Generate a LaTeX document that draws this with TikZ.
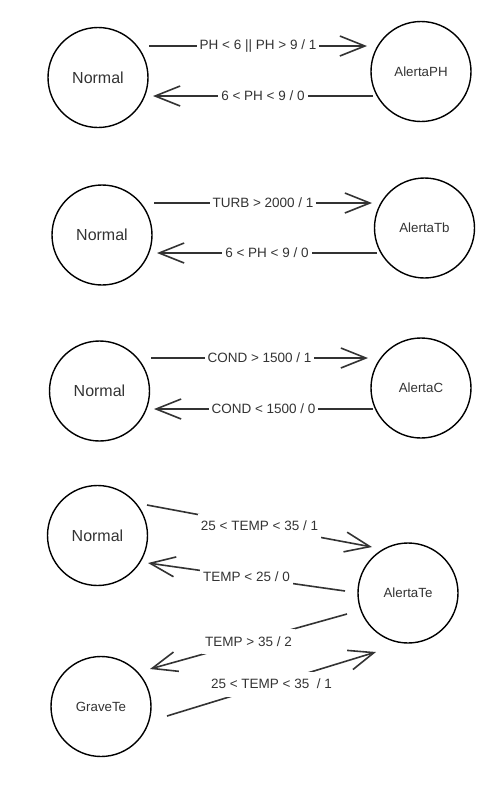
\documentclass[tikz,border=0pt]{standalone}
\usepackage{fontspec}
\setmainfont{Liberation Sans}
\usetikzlibrary{arrows.meta,calc}
\begin{document}
\begin{tikzpicture}[x=1pt,y=-1pt,
  state/.style={circle,draw=black,line width=1.4pt,minimum size=100pt,inner sep=0pt,text=black!80,font=\fontsize{13.3}{15}\selectfont},
  bigtxt/.style={font=\fontsize{16}{19}\selectfont},
  edge/.style={draw=black!80,line width=1.6pt,-{Straight Barb[length=25pt,width=20pt,line width=1.6pt]}},
  lbl/.style={fill=white,text=black!80,font=\fontsize{13.5}{15}\selectfont,inner xsep=3pt,inner ysep=0pt,minimum height=25pt,midway}]
\useasboundingbox (0,0) rectangle (501,785);
% row 1
\node[state,bigtxt] (N1) at (98,77.5) {Normal};
\node[state] (A1) at (421,71.5) {AlertaPH};
\draw[edge] ($(N1)+(51,-31.5)$) -- node[lbl]{PH < 6 || PH > 9 / 1} ($(A1)+(-54,-25.5)$);
\draw[edge] ($(A1)+(-48,24.5)$) -- node[lbl]{6 < PH < 9 / 0} ($(N1)+(55,18.5)$);
% row 2
\node[state,bigtxt] (N2) at (102,235) {Normal};
\node[state] (A2) at (424.5,228) {AlertaTb};
\draw[edge] ($(N2)+(52,-32)$) -- node[lbl]{TURB > 2000 / 1} ($(A2)+(-52.5,-25)$);
\draw[edge] ($(A2)+(-47.5,25)$) -- node[lbl]{6 < PH < 9 / 0} ($(N2)+(55,18)$);
% row 3
\node[state,bigtxt] (N3) at (99.5,391) {Normal};
\node[state] (A3) at (421,388) {AlertaC};
\draw[edge] ($(N3)+(51.5,-33)$) -- node[lbl]{COND > 1500 / 1} ($(A3)+(-53,-30)$);
\draw[edge] ($(A3)+(-48,21)$) -- node[lbl]{COND < 1500 / 0} ($(N3)+(54.5,18)$);
% row 4
\node[state,bigtxt] (N4) at (97.5,535.5) {Normal};
\node[state] (A4) at (408,593) {AlertaTe};
\node[state] (G) at (101,706.5) {GraveTe};
\draw[edge] ($(N4)+(49.5,-30.5)$) -- node[lbl]{25 < TEMP < 35 / 1} ($(A4)+(-36,-46)$);
\draw[edge] ($(A4)+(-63,-2)$) -- node[lbl]{TEMP < 25 / 0} ($(N4)+(50.5,27.5)$);
\draw[edge] ($(A4)+(-61,21)$) -- node[lbl]{TEMP > 35 / 2} ($(G)+(49,-37.5)$);
\draw[edge] ($(G)+(66,9.5)$) -- node[lbl]{25 < TEMP < 35\ \ / 1} ($(A4)+(-32,59)$);
\end{tikzpicture}
\end{document}
